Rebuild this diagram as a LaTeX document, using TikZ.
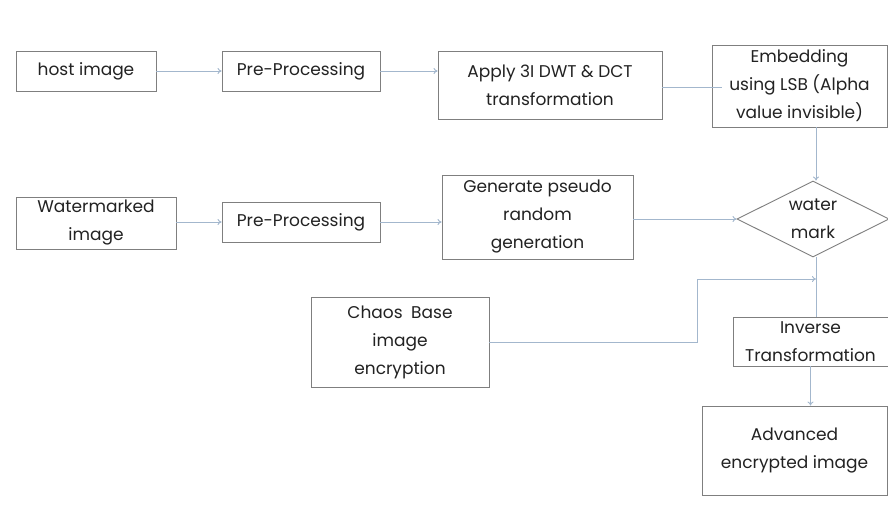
\documentclass[tikz,border=0pt]{standalone}
\usepackage{fontspec}
\setmainfont{Poppins}
\usetikzlibrary{shapes.geometric,arrows.meta}
\definecolor{boxline}{HTML}{7F7F7F}
\definecolor{flow}{HTML}{A3B7CD}
\definecolor{ink}{HTML}{222222}
\begin{document}
\begin{tikzpicture}[x=1pt,y=-1pt,
  every node/.style={font=\fontsize{17}{28}\selectfont, text=ink, align=center, inner sep=0pt},
  procbox/.style={draw=boxline, line width=0.9pt, rectangle},
  decision/.style={draw=boxline, line width=0.9pt, diamond},
  flowline/.style={draw=flow, line width=0.9pt},
  flowarrow/.style={flowline, -{To[length=4pt,width=6pt]}}]
\useasboundingbox (0,0) rectangle (888,510);
\fill[white] (0,0) rectangle (888,510);

% top row
\node[procbox, minimum width=140, minimum height=40] (host) at (86,71) {host image};
\node[procbox, minimum width=158, minimum height=40] (pp1) at (301,71) {Pre-Processing};
\node[procbox, minimum width=224, minimum height=68] (apply) at (550,85) {Apply 3I DWT \& DCT\\transformation};
\node[procbox, minimum width=175, minimum height=82] (embed) at (799.5,86) {Embedding\\using LSB (Alpha\\value invisible)};

% second row
\node[procbox, minimum width=160, minimum height=52] (wm) at (96,223) {Watermarked\\image};
\node[procbox, minimum width=158, minimum height=40] (pp2) at (301,222) {Pre-Processing};
\node[procbox, minimum width=191, minimum height=84] (gen) at (537.5,217) {Generate pseudo\\random\\generation};
% the diamond keeps its drawn size; its two-line text sits on top as a label
\node[decision, minimum width=152, minimum height=76, label={center:{water\\mark}}] (mark) at (813,219) {};

% lower part
\node[procbox, minimum width=178, minimum height=90] (chaos) at (400,342) {Chaos\enspace Base\\image\\encryption};
\node[procbox, minimum width=155, minimum height=49] (inv) at (810.5,341.5) {Inverse\\Transformation};
\node[procbox, minimum width=185, minimum height=89] (adv) at (794.5,450.5) {Advanced\\encrypted image};

\coordinate (applyend) at (722,87);
\coordinate (join) at (816,279);

% connectors
\draw[flowarrow] (host) -- (pp1);
\draw[flowarrow] (pp1.east) -- (pp1.east -| apply.west);
\draw[flowline] (apply.east |- applyend) -- (applyend);
\draw[flowarrow] (join |- embed.south) -- (join |- mark.north);
\draw[flowarrow] (wm.east |- pp2) -- (pp2.west);
\draw[flowarrow] (pp2.east) -- (pp2.east -| gen.west);
\draw[flowarrow] (gen.east |- mark.west) -- (mark.west);
\draw[flowline] (join |- mark.south) -- (join |- inv.north);
\draw[flowarrow] (chaos.east) -- (697,342) -- (697,279) -- (join);
\draw[flowarrow] (inv.south) -- (inv.south |- adv.north);
\end{tikzpicture}
\end{document}
